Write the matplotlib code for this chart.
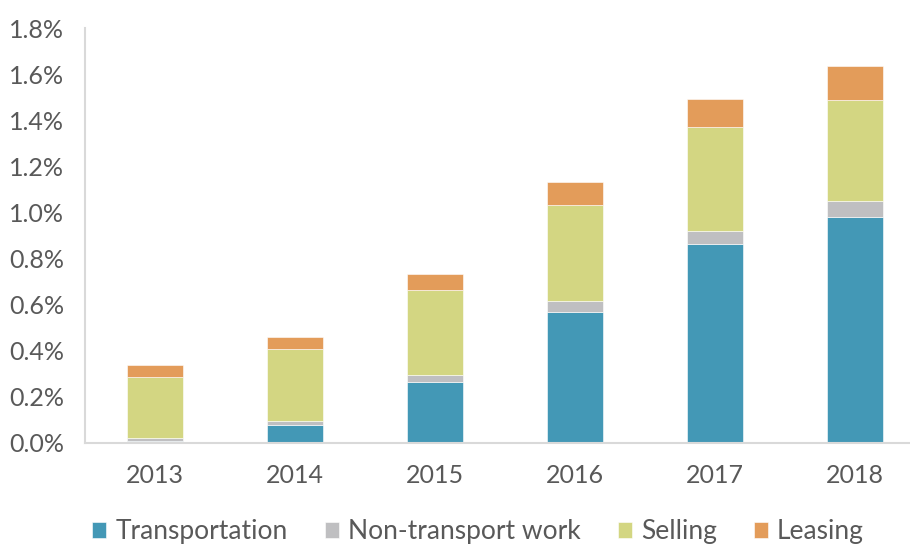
import numpy as np
import matplotlib.pyplot as plt
from matplotlib.ticker import FuncFormatter

years = ["2013", "2014", "2015", "2016", "2017", "2018"]
transportation = [0.010, 0.078, 0.263, 0.569, 0.864, 0.979]
non_transport = [0.013, 0.017, 0.033, 0.045, 0.056, 0.069]
selling = [0.263, 0.312, 0.366, 0.418, 0.451, 0.439]
leasing = [0.052, 0.052, 0.069, 0.100, 0.121, 0.150]

colors = ["#4398b6", "#bfbfc1", "#d3d682", "#e39c5a"]
labels = ["Transportation", "Non-transport work", "Selling", "Leasing"]

plt.rcParams["font.family"] = ["Lato", "DejaVu Sans"]

fig = plt.figure(figsize=(9.10, 5.45), dpi=100)
ax = fig.add_axes([85 / 910, 102 / 545, 825 / 910, 415 / 545])

x = np.arange(len(years))
bottom = np.zeros(len(years))
for vals, c, lab in zip([transportation, non_transport, selling, leasing], colors, labels):
    ax.bar(x, vals, 0.4, bottom=bottom, color=c, label=lab, edgecolor="white", linewidth=0.4)
    bottom += np.array(vals)

ax.set_xlim(-0.5, -0.5 + 825 / 140)
ax.set_ylim(0, 1.8)
ax.set_yticks(np.arange(0, 1.81, 0.2))
ax.yaxis.set_major_formatter(FuncFormatter(lambda v, p: f"{v:.1f}%"))
ax.set_xticks(x)
ax.set_xticklabels(years)
ax.tick_params(length=0, labelsize=18, labelcolor="#595959")
ax.tick_params(axis="x", pad=15)
ax.tick_params(axis="y", pad=15)

for s in ["top", "right"]:
    ax.spines[s].set_visible(False)
for s in ["left", "bottom"]:
    ax.spines[s].set_color("#d9d9d9")
    ax.spines[s].set_linewidth(1.5)

fig.legend(loc="center", bbox_to_anchor=(478 / 910, 1 - 532 / 545), ncol=4,
           frameon=False, fontsize=19, labelcolor="#595959",
           handlelength=0.53, handleheight=0.53, handletextpad=0.35,
           columnspacing=1.4, borderpad=0, borderaxespad=0)

fig.savefig("out.png", dpi=100)
